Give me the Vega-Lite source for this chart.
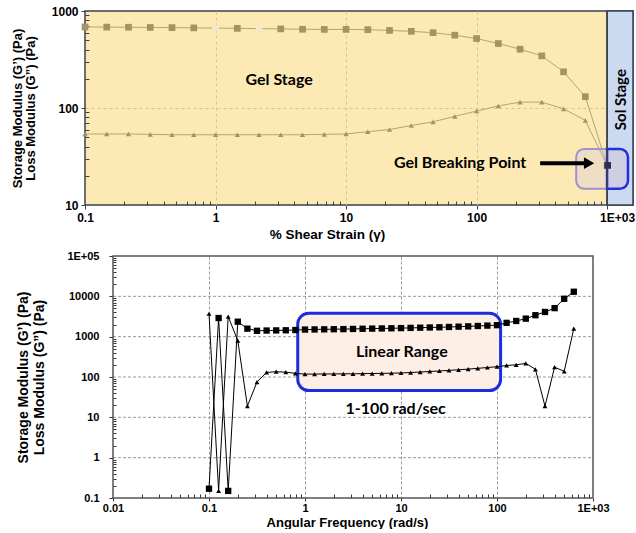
{
  "$schema": "https://vega.github.io/schema/vega-lite/v6.json",
  "padding": {"left": 10, "top": 4, "right": 0, "bottom": 0},
  "spacing": 8,
  "config": {
    "font": "Liberation Sans",
    "axis": {
      "labelFont": "Liberation Sans", "labelFontWeight": "bold", "labelColor": "black",
      "titleFont": "Liberation Sans", "titleFontWeight": "bold", "titleColor": "black",
      "labelFlush": false, "labelOverlap": false, "domain": false,
      "tickColor": "#3a4150", "tickWidth": 1
    }
  },
  "vconcat": [
    {
      "width": 548,
      "height": 194,
      "view": {"fill": "#fce9b4", "stroke": "#3a4150", "strokeWidth": 1.5},
      "data": {"values": [
        {"series": "G'", "x": 0.1, "v": 684}, {"series": "G'", "x": 0.1468, "v": 682}, {"series": "G'", "x": 0.2154, "v": 680},
        {"series": "G'", "x": 0.3162, "v": 677}, {"series": "G'", "x": 0.4642, "v": 674}, {"series": "G'", "x": 0.6813, "v": 670},
        {"series": "G'", "x": 1, "v": 666}, {"series": "G'", "x": 1.468, "v": 662}, {"series": "G'", "x": 2.154, "v": 658},
        {"series": "G'", "x": 3.162, "v": 654}, {"series": "G'", "x": 4.642, "v": 648}, {"series": "G'", "x": 6.813, "v": 646},
        {"series": "G'", "x": 10, "v": 646}, {"series": "G'", "x": 14.68, "v": 642}, {"series": "G'", "x": 21.54, "v": 630},
        {"series": "G'", "x": 31.62, "v": 617}, {"series": "G'", "x": 46.42, "v": 598}, {"series": "G'", "x": 68.13, "v": 563},
        {"series": "G'", "x": 100, "v": 520}, {"series": "G'", "x": 146.8, "v": 462}, {"series": "G'", "x": 215.4, "v": 404},
        {"series": "G'", "x": 316.2, "v": 345}, {"series": "G'", "x": 464.2, "v": 236}, {"series": "G'", "x": 681.3, "v": 131},
        {"series": "G'", "x": 1000, "v": 25.6},
        {"series": "G''", "x": 0.1, "v": 54}, {"series": "G''", "x": 0.1468, "v": 54}, {"series": "G''", "x": 0.2154, "v": 54},
        {"series": "G''", "x": 0.3162, "v": 53.5}, {"series": "G''", "x": 0.4642, "v": 53}, {"series": "G''", "x": 0.6813, "v": 53},
        {"series": "G''", "x": 1, "v": 53}, {"series": "G''", "x": 1.468, "v": 53}, {"series": "G''", "x": 2.154, "v": 53},
        {"series": "G''", "x": 3.162, "v": 53}, {"series": "G''", "x": 4.642, "v": 53}, {"series": "G''", "x": 6.813, "v": 53.5},
        {"series": "G''", "x": 10, "v": 54}, {"series": "G''", "x": 14.68, "v": 57}, {"series": "G''", "x": 21.54, "v": 60},
        {"series": "G''", "x": 31.62, "v": 66}, {"series": "G''", "x": 46.42, "v": 72}, {"series": "G''", "x": 68.13, "v": 82},
        {"series": "G''", "x": 100, "v": 93}, {"series": "G''", "x": 146.8, "v": 105}, {"series": "G''", "x": 215.4, "v": 115},
        {"series": "G''", "x": 316.2, "v": 115}, {"series": "G''", "x": 464.2, "v": 98}, {"series": "G''", "x": 681.3, "v": 74.5},
        {"series": "G''", "x": 1000, "v": 25.6}
      ]},
      "layer": [
        {
          "data": {"values": [{}]},
          "mark": {"type": "rect", "fill": "#cbd9f1", "stroke": "#3a4150", "strokeWidth": 1.5},
          "encoding": {"x": {"datum": 1000}, "x2": {"datum": 1580}, "y": {"datum": 10}, "y2": {"datum": 1000}}
        },
        {
          "mark": {"type": "line", "color": "#b3a577", "strokeWidth": 1},
          "encoding": {
            "x": {"field": "x", "type": "quantitative",
              "scale": {"type": "log", "domain": [0.1, 1580], "nice": false},
              "axis": {
                "title": "% Shear Strain (γ)", "titleFontSize": 13.5, "titlePadding": 4, "titleX": 242,
                "labelFontSize": 12, "labelPadding": 3,
                "values": [0.1,0.2,0.3,0.4,0.5,0.6,0.7,0.8,0.9,1,2,3,4,5,6,7,8,9,10,20,30,40,50,60,70,80,90,100,200,300,400,500,600,700,800,900,1000],
                "labelExpr": "datum.value == 1000 ? '1E+03' : (abs(log(datum.value)/LN10 - round(log(datum.value)/LN10)) < 1e-6 ? '' + datum.value : '')",
                "labelOffset": {"condition": {"test": "datum.value == 1000", "value": 10}, "value": 0},
                "tickSize": {"condition": {"test": "abs(log(datum.value)/LN10 - round(log(datum.value)/LN10)) < 1e-6", "value": 4}, "value": -4},
                "grid": true, "gridColor": "#d8c58c", "gridDash": [3, 3],
                "gridOpacity": {"condition": {"test": "abs(log(datum.value)/LN10 - round(log(datum.value)/LN10)) < 1e-6 && datum.value > 0.1 && datum.value < 1000", "value": 1}, "value": 0}
              }},
            "y": {"field": "v", "type": "quantitative",
              "scale": {"type": "log", "domain": [10, 1000], "nice": false},
              "axis": {
                "title": ["Storage Modulus (G’) (Pa)", "Loss Modulus (G”) (Pa)"], "titleFontSize": 13, "titleLineHeight": 13, "titlePadding": 14,
                "labelFontSize": 12, "labelPadding": 3,
                "values": [10,20,30,40,50,60,70,80,90,100,200,300,400,500,600,700,800,900,1000],
                "labelExpr": "abs(log(datum.value)/LN10 - round(log(datum.value)/LN10)) < 1e-6 ? '' + datum.value : ''",
                "tickSize": {"condition": {"test": "abs(log(datum.value)/LN10 - round(log(datum.value)/LN10)) < 1e-6", "value": 4}, "value": -4},
                "grid": true, "gridColor": "#d8c58c", "gridDash": [3, 3],
                "gridOpacity": {"condition": {"test": "datum.value == 100", "value": 1}, "value": 0}
              }},
            "detail": {"field": "series"}
          }
        },
        {
          "transform": [{"filter": "datum.series == \"G'\""}],
          "mark": {"type": "point", "shape": "square", "filled": true, "size": 45, "opacity": 1},
          "encoding": {
            "x": {"field": "x", "type": "quantitative"},
            "y": {"field": "v", "type": "quantitative"},
            "color": {"condition": {"test": "datum.x == 1 || datum.x == 2.154", "value": "#f3e9c8"}, "value": "#a39466"}
          }
        },
        {
          "transform": [{"filter": "datum.series == \"G''\""}],
          "mark": {"type": "point", "shape": "triangle-up", "filled": true, "size": 28, "opacity": 1, "color": "#a39466"},
          "encoding": {
            "x": {"field": "x", "type": "quantitative"},
            "y": {"field": "v", "type": "quantitative"}
          }
        },
        {
          "data": {"values": [{}]},
          "mark": {"type": "rect", "fill": "#c8c0f0", "fillOpacity": 0.25, "stroke": "#9b92d2", "strokeWidth": 2, "cornerRadiusTopLeft": 8, "cornerRadiusBottomLeft": 8},
          "encoding": {"x": {"datum": 580}, "x2": {"datum": 1000}, "y": {"datum": 14.7}, "y2": {"datum": 37.8}}
        },
        {
          "data": {"values": [{}]},
          "mark": {"type": "rect", "fill": "#cfcde0", "fillOpacity": 0.9, "stroke": "#1e30e0", "strokeWidth": 2.5, "cornerRadiusTopRight": 8, "cornerRadiusBottomRight": 8},
          "encoding": {"x": {"datum": 1000}, "x2": {"datum": 1446}, "y": {"datum": 14.7}, "y2": {"datum": 37.8}}
        },
        {
          "data": {"values": [{}]},
          "mark": {"type": "rule", "color": "#3a4150", "strokeWidth": 1.5},
          "encoding": {"x": {"datum": 1000}, "y": {"datum": 10}, "y2": {"datum": 1000}}
        },
        {
          "data": {"values": [{}]},
          "mark": {"type": "point", "shape": "square", "filled": true, "size": 45, "color": "#28304a", "opacity": 1},
          "encoding": {"x": {"datum": 1010}, "y": {"datum": 25.6}}
        },
        {
          "data": {"values": [{}]},
          "mark": {"type": "rule", "color": "black", "strokeWidth": 4},
          "encoding": {"x": {"datum": 307}, "x2": {"datum": 700}, "y": {"datum": 27}}
        },
        {
          "data": {"values": [{}]},
          "mark": {"type": "point", "shape": "triangle-right", "filled": true, "size": 140, "color": "black", "opacity": 1},
          "encoding": {"x": {"datum": 728}, "y": {"datum": 27}}
        },
        {
          "data": {"values": [{}]},
          "mark": {"type": "text", "text": "Gel Stage", "font": "Lato", "fontWeight": "bold", "fontSize": 16, "color": "black"},
          "encoding": {"x": {"datum": 3.07}, "y": {"datum": 196}}
        },
        {
          "data": {"values": [{}]},
          "mark": {"type": "text", "text": "Gel Breaking Point", "font": "Lato", "fontWeight": "bold", "fontSize": 16, "color": "black"},
          "encoding": {"x": {"datum": 74.8}, "y": {"datum": 27.3}}
        },
        {
          "data": {"values": [{}]},
          "mark": {"type": "text", "text": "Sol  Stage", "font": "Lato", "fontWeight": "bold", "fontSize": 15, "angle": 270, "color": "black"},
          "encoding": {"x": {"datum": 1270}, "y": {"datum": 122}}
        }
      ]
    },
    {
      "width": 508,
      "height": 242,
      "view": {"fill": "white", "stroke": null},
      "data": {"values": [
        {"series": "G'", "x": 0.1, "v": 0.17}, {"series": "G'", "x": 0.1259, "v": 2900}, {"series": "G'", "x": 0.1585, "v": 0.15},
        {"series": "G'", "x": 0.1995, "v": 2350}, {"series": "G'", "x": 0.2512, "v": 1580}, {"series": "G'", "x": 0.3162, "v": 1400},
        {"series": "G'", "x": 0.3981, "v": 1420}, {"series": "G'", "x": 0.5012, "v": 1430}, {"series": "G'", "x": 0.631, "v": 1440},
        {"series": "G'", "x": 0.7943, "v": 1460}, {"series": "G'", "x": 1, "v": 1500}, {"series": "G'", "x": 1.259, "v": 1510},
        {"series": "G'", "x": 1.585, "v": 1520}, {"series": "G'", "x": 1.995, "v": 1530}, {"series": "G'", "x": 2.512, "v": 1540},
        {"series": "G'", "x": 3.162, "v": 1555}, {"series": "G'", "x": 3.981, "v": 1570}, {"series": "G'", "x": 5.012, "v": 1585},
        {"series": "G'", "x": 6.31, "v": 1600}, {"series": "G'", "x": 7.943, "v": 1615}, {"series": "G'", "x": 10, "v": 1630},
        {"series": "G'", "x": 12.59, "v": 1650}, {"series": "G'", "x": 15.85, "v": 1670}, {"series": "G'", "x": 19.95, "v": 1690},
        {"series": "G'", "x": 25.12, "v": 1710}, {"series": "G'", "x": 31.62, "v": 1740}, {"series": "G'", "x": 39.81, "v": 1770},
        {"series": "G'", "x": 50.12, "v": 1800}, {"series": "G'", "x": 63.1, "v": 1840}, {"series": "G'", "x": 79.43, "v": 1880},
        {"series": "G'", "x": 100, "v": 1930}, {"series": "G'", "x": 125.9, "v": 2200}, {"series": "G'", "x": 158.5, "v": 2450},
        {"series": "G'", "x": 199.5, "v": 2800}, {"series": "G'", "x": 251.2, "v": 3400}, {"series": "G'", "x": 316.2, "v": 4100},
        {"series": "G'", "x": 398.1, "v": 5100}, {"series": "G'", "x": 501.2, "v": 8700}, {"series": "G'", "x": 631, "v": 13000},
        {"series": "G''", "x": 0.1, "v": 3700}, {"series": "G''", "x": 0.1259, "v": 0.15}, {"series": "G''", "x": 0.1585, "v": 3150},
        {"series": "G''", "x": 0.1995, "v": 800}, {"series": "G''", "x": 0.2512, "v": 19}, {"series": "G''", "x": 0.3162, "v": 75},
        {"series": "G''", "x": 0.3981, "v": 130}, {"series": "G''", "x": 0.5012, "v": 135}, {"series": "G''", "x": 0.631, "v": 132},
        {"series": "G''", "x": 0.7943, "v": 123}, {"series": "G''", "x": 1, "v": 118}, {"series": "G''", "x": 1.259, "v": 118},
        {"series": "G''", "x": 1.585, "v": 119}, {"series": "G''", "x": 1.995, "v": 119}, {"series": "G''", "x": 2.512, "v": 120},
        {"series": "G''", "x": 3.162, "v": 120}, {"series": "G''", "x": 3.981, "v": 121}, {"series": "G''", "x": 5.012, "v": 122},
        {"series": "G''", "x": 6.31, "v": 123}, {"series": "G''", "x": 7.943, "v": 124}, {"series": "G''", "x": 10, "v": 126},
        {"series": "G''", "x": 12.59, "v": 129}, {"series": "G''", "x": 15.85, "v": 133}, {"series": "G''", "x": 19.95, "v": 137},
        {"series": "G''", "x": 25.12, "v": 141}, {"series": "G''", "x": 31.62, "v": 146}, {"series": "G''", "x": 39.81, "v": 151},
        {"series": "G''", "x": 50.12, "v": 157}, {"series": "G''", "x": 63.1, "v": 164}, {"series": "G''", "x": 79.43, "v": 172},
        {"series": "G''", "x": 100, "v": 180}, {"series": "G''", "x": 125.9, "v": 193}, {"series": "G''", "x": 158.5, "v": 200},
        {"series": "G''", "x": 199.5, "v": 218}, {"series": "G''", "x": 251.2, "v": 155}, {"series": "G''", "x": 316.2, "v": 19},
        {"series": "G''", "x": 398.1, "v": 175}, {"series": "G''", "x": 501.2, "v": 138}, {"series": "G''", "x": 631, "v": 1580}
      ]},
      "layer": [
        {
          "data": {"values": [{"g": 1}, {"g": 10}, {"g": 100}, {"g": 1000}, {"g": 10000}]},
          "mark": {"type": "rule", "color": "#9a9a9a", "strokeWidth": 1, "strokeDash": [3, 2]},
          "encoding": {"x": {"datum": 0.01}, "x2": {"datum": 1000}, "y": {"field": "g", "type": "quantitative"}}
        },
        {
          "data": {"values": [{}]},
          "mark": {"type": "rect", "fill": "#fdeee6", "stroke": "#1a2ee0", "strokeWidth": 3, "cornerRadius": 11},
          "encoding": {"x": {"datum": 0.84}, "x2": {"datum": 109}, "y": {"datum": 46}, "y2": {"datum": 3800}}
        },
        {
          "mark": {"type": "line", "color": "black", "strokeWidth": 1},
          "encoding": {
            "x": {"field": "x", "type": "quantitative",
              "scale": {"type": "log", "domain": [0.01, 1000], "nice": false, "range": [28, 508]},
              "axis": {
                "title": "Angular Frequency (rad/s)", "titleFontSize": 13, "titlePadding": 3, "titleX": 262,
                "labelFontSize": 11, "labelPadding": 1,
                "values": [0.01,0.02,0.03,0.04,0.05,0.06,0.07,0.08,0.09,0.1,0.2,0.3,0.4,0.5,0.6,0.7,0.8,0.9,1,2,3,4,5,6,7,8,9,10,20,30,40,50,60,70,80,90,100,200,300,400,500,600,700,800,900,1000],
                "labelExpr": "datum.value == 1000 ? '1E+03' : (abs(log(datum.value)/LN10 - round(log(datum.value)/LN10)) < 1e-6 ? '' + datum.value : '')",
                "tickColor": "#333333",
                "tickSize": {"condition": {"test": "abs(log(datum.value)/LN10 - round(log(datum.value)/LN10)) < 1e-6", "value": 3}, "value": -4},
                "grid": true, "gridColor": "#9a9a9a", "gridDash": [3, 2],
                "gridOpacity": {"condition": {"test": "abs(log(datum.value)/LN10 - round(log(datum.value)/LN10)) < 1e-6 && datum.value > 0.01 && datum.value < 1000", "value": 1}, "value": 0}
              }},
            "y": {"field": "v", "type": "quantitative",
              "scale": {"type": "log", "domain": [0.1, 100000], "nice": false},
              "axis": {
                "offset": -28,
                "title": ["Storage Modulus (G’) (Pa)", "Loss Modulus (G”) (Pa)"], "titleFontSize": 14, "titleLineHeight": 16, "titlePadding": 20,
                "labelFontSize": 11, "labelPadding": 10,
                "values": [0.1,0.2,0.3,0.4,0.5,0.6,0.7,0.8,0.9,1,2,3,4,5,6,7,8,9,10,20,30,40,50,60,70,80,90,100,200,300,400,500,600,700,800,900,1000,2000,3000,4000,5000,6000,7000,8000,9000,10000,20000,30000,40000,50000,60000,70000,80000,90000,100000],
                "labelExpr": "datum.value == 100000 ? '1E+05' : (abs(log(datum.value)/LN10 - round(log(datum.value)/LN10)) < 1e-6 ? '' + datum.value : '')",
                "tickColor": "#333333",
                "tickSize": {"condition": {"test": "abs(log(datum.value)/LN10 - round(log(datum.value)/LN10)) < 1e-6", "value": 4}, "value": -3},
                "grid": false
              }},
            "detail": {"field": "series"}
          }
        },
        {
          "transform": [{"filter": "datum.series == \"G'\""}],
          "mark": {"type": "point", "shape": "square", "filled": true, "size": 40, "color": "black", "opacity": 1},
          "encoding": {
            "x": {"field": "x", "type": "quantitative"},
            "y": {"field": "v", "type": "quantitative"}
          }
        },
        {
          "transform": [{"filter": "datum.series == \"G''\""}],
          "mark": {"type": "point", "shape": "triangle-up", "filled": true, "size": 24, "color": "black", "opacity": 1},
          "encoding": {
            "x": {"field": "x", "type": "quantitative"},
            "y": {"field": "v", "type": "quantitative"}
          }
        },
        {
          "data": {"values": [{}]},
          "mark": {"type": "text", "text": "Linear Range", "font": "Lato", "fontWeight": "bold", "fontSize": 16, "color": "black"},
          "encoding": {"x": {"datum": 10.2}, "y": {"datum": 419}}
        },
        {
          "data": {"values": [{}]},
          "mark": {"type": "text", "text": "1-100 rad/sec", "font": "Lato", "fontWeight": "bold", "fontSize": 16, "color": "black"},
          "encoding": {"x": {"datum": 8.8}, "y": {"datum": 16}}
        },
        {
          "data": {"values": [{}]},
          "mark": {"type": "rect", "filled": false, "color": "#555555", "strokeWidth": 1.5},
          "encoding": {"x": {"datum": 0.01}, "x2": {"datum": 1000}, "y": {"datum": 0.1}, "y2": {"datum": 100000}}
        }
      ]
    }
  ]
}
